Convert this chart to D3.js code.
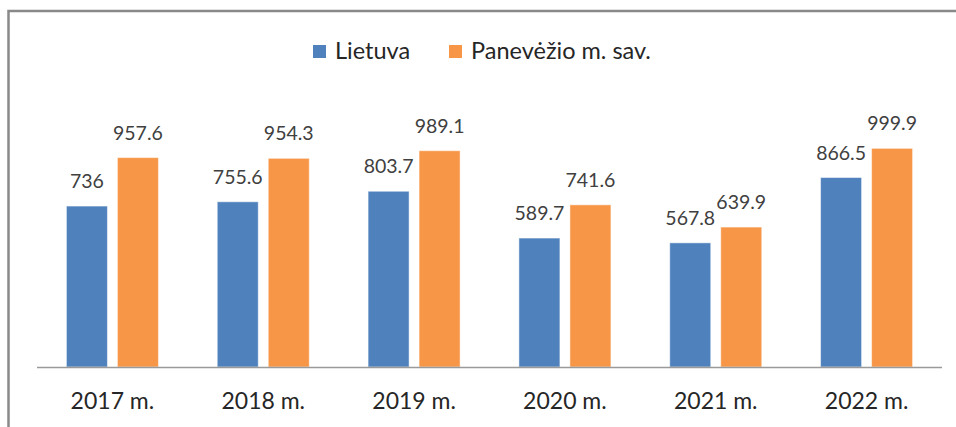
<!DOCTYPE html>
<html>
<head>
<meta charset="utf-8">
<script src="https://cdn.jsdelivr.net/npm/d3@7"></script>
<style>
  body { margin: 0; background: #fff; }
  text { font-family: Lato, "Open Sans", sans-serif; }
</style>
</head>
<body>
<div id="chart"></div>
<script>
var years = ["2017 m.", "2018 m.", "2019 m.", "2020 m.", "2021 m.", "2022 m."];
var seriesNames = ["Lietuva", "Panevėžio m. sav."];
var lietuva = [736, 755.6, 803.7, 589.7, 567.8, 866.5];
var panevezys = [957.6, 954.3, 989.1, 741.6, 639.9, 999.9];
var colors = ["#4f81bd", "#f79646"];

var width = 956,
    height = 427;

var svg = d3.select("#chart").append("svg")
    .attr("width", width)
    .attr("height", height);

// chart frame (runs past right and bottom edges)
svg.append("rect")
    .attr("x", 8.5)
    .attr("y", 11)
    .attr("width", 980)
    .attr("height", 440)
    .attr("fill", "none")
    .attr("stroke", "#898989")
    .attr("stroke-width", 2.5);

var x0 = d3.scaleBand().domain(years).range([37, 942])
    .paddingInner(0.39).paddingOuter(0.195);
var x1 = d3.scaleBand().domain(seriesNames).range([0, x0.bandwidth()])
    .paddingInner(0.196);
var y = d3.scaleLinear().domain([0, 1200]).range([367, 104.6]);

var data = years.map(function (yr, i) {
    return {year: yr, values: [
        {name: seriesNames[0], value: lietuva[i]},
        {name: seriesNames[1], value: panevezys[i]}
    ]};
});

var groups = svg.selectAll("g.year")
    .data(data)
    .enter().append("g")
    .attr("class", "year")
    .attr("transform", function (d) { return "translate(" + x0(d.year) + ",0)"; });

groups.selectAll("rect")
    .data(function (d) { return d.values; })
    .enter().append("rect")
    .attr("x", function (d) { return x1(d.name); })
    .attr("y", function (d) { return y(d.value); })
    .attr("width", x1.bandwidth())
    .attr("height", function (d) { return y(0) - y(d.value); })
    .attr("fill", function (d, i) { return colors[i]; })
    .attr("stroke", "#ffffff")
    .attr("stroke-opacity", 0.5)
    .attr("stroke-width", 1);

groups.selectAll("text.val")
    .data(function (d) { return d.values; })
    .enter().append("text")
    .attr("class", "val")
    .attr("x", function (d) { return x1(d.name) + x1.bandwidth() / 2; })
    .attr("y", function (d) { return y(d.value) - 18; })
    .attr("text-anchor", "middle")
    .attr("font-size", "19.5px")
    .attr("fill", "#404040")
    .text(function (d) { return d.value; });

// baseline
svg.append("line")
    .attr("x1", 37).attr("x2", 942)
    .attr("y1", y(0) + 0.5).attr("y2", y(0) + 0.5)
    .attr("stroke", "#9a9a9a")
    .attr("stroke-width", 1.5);

var xAxis = svg.append("g")
    .attr("transform", "translate(0," + y(0) + ")")
    .call(d3.axisBottom(x0).tickSize(0).tickPadding(0));
xAxis.select(".domain").remove();
xAxis.selectAll("text")
    .attr("dy", null)
    .attr("y", 42)
    .attr("font-size", "23px")
    .attr("font-family", "Lato, 'Open Sans', sans-serif")
    .attr("fill", "#262626");

// legend
var legendPos = [313, 449];
var legend = svg.selectAll("g.legend")
    .data(seriesNames)
    .enter().append("g")
    .attr("class", "legend")
    .attr("transform", function (d, i) { return "translate(" + legendPos[i] + ",45)"; });
legend.append("rect")
    .attr("width", 13).attr("height", 13)
    .attr("fill", function (d, i) { return colors[i]; });
legend.append("text")
    .attr("x", 22)
    .attr("y", 14)
    .attr("font-size", "23.5px")
    .attr("fill", "#262626")
    .text(function (d) { return d; });
</script>
</body>
</html>
